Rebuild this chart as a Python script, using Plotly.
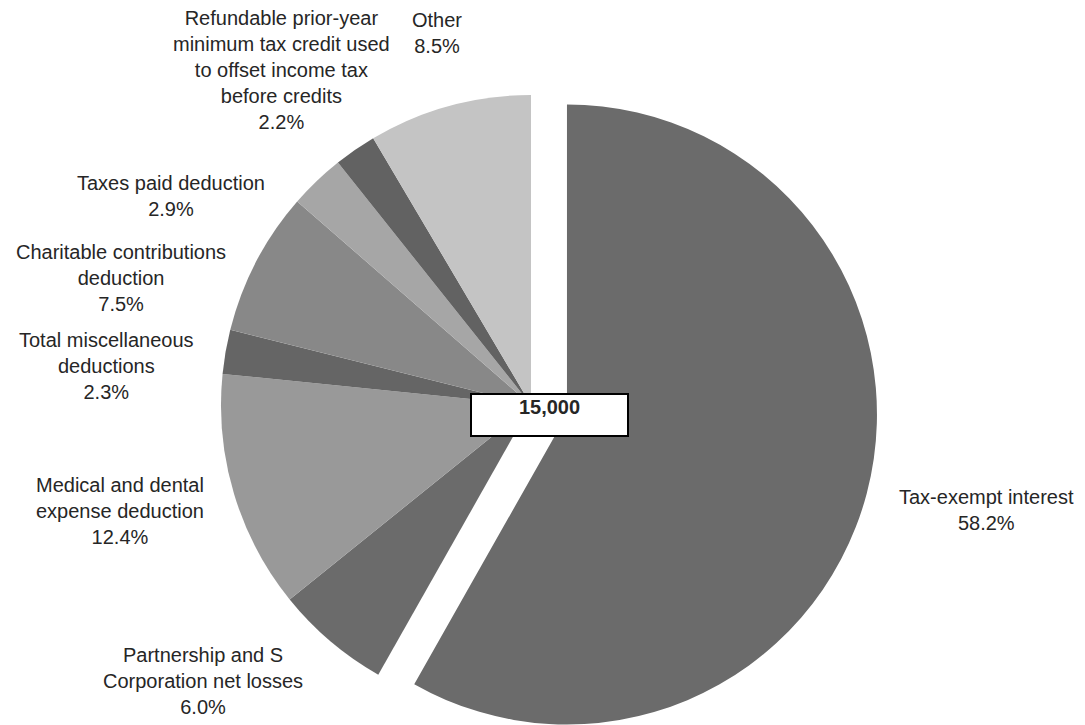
import plotly.graph_objects as go

# Slices, clockwise from 12 o'clock
categories = [
    "Tax-exempt interest",
    "Partnership and S<br>Corporation net losses",
    "Medical and dental<br>expense deduction",
    "Total miscellaneous<br>deductions",
    "Charitable contributions<br>deduction",
    "Taxes paid deduction",
    "Refundable prior-year<br>minimum tax credit used<br>to offset income tax<br>before credits",
    "Other",
]
shares = [58.2, 6.0, 12.4, 2.3, 7.5, 2.9, 2.2, 8.5]
pulls = [0.12, 0, 0, 0, 0, 0, 0, 0]
colors = ["#6b6b6b", "#6b6b6b", "#999999", "#656565",
          "#888888", "#a6a6a6", "#626262", "#c4c4c4"]
total_label = "15,000"

# Label anchor points in pixels (x from left, y from top)
label_pos = [(986, 510), (203, 681), (120, 511), (106, 366),
             (121, 278), (171, 196), (282, 70), (437, 33)]

W, H = 1085, 760
cx, cy, r = 531, 405, 310
R = r * (1 + max(pulls))

fig = go.Figure(go.Pie(
    labels=[c.replace("<br>", " ") for c in categories],
    values=shares,
    pull=pulls,
    sort=False,
    direction="clockwise",
    rotation=0,
    marker=dict(colors=colors, line=dict(width=0)),
    textinfo="none",
    hoverinfo="label+percent",
    showlegend=False,
    domain=dict(x=[(cx - R) / W, (cx + R) / W],
                y=[(H - cy - R) / H, (H - cy + R) / H]),
))

font = dict(family="Liberation Sans, Arial, sans-serif", size=20, color="#262626")

annotations = []
for name, v, (px, py) in zip(categories, shares, label_pos):
    annotations.append(dict(
        x=px / W, y=1 - py / H, xref="paper", yref="paper",
        xanchor="center", yanchor="middle",
        text=f"{name}<br>{v:.1f}%", showarrow=False, align="center",
        font=font,
    ))

annotations.append(dict(
    x=549.5 / W, y=1 - 415 / H, xref="paper", yref="paper",
    xanchor="center", yanchor="middle",
    text=f"<b>{total_label}</b>", showarrow=False,
    font=dict(family="Liberation Sans, Arial, sans-serif", size=20, color="#262626"),
    bgcolor="white", bordercolor="black", borderwidth=2, borderpad=1,
    width=153, height=38, valign="top",
))

fig.update_layout(
    width=W, height=H,
    margin=dict(l=0, r=0, t=0, b=0),
    paper_bgcolor="white",
    plot_bgcolor="white",
    annotations=annotations,
)

fig.write_html(
    "out.html",
    post_script="document.body.style.margin='0';"
                "document.body.style.overflow='hidden';"
                "document.documentElement.style.overflow='hidden';",
)
